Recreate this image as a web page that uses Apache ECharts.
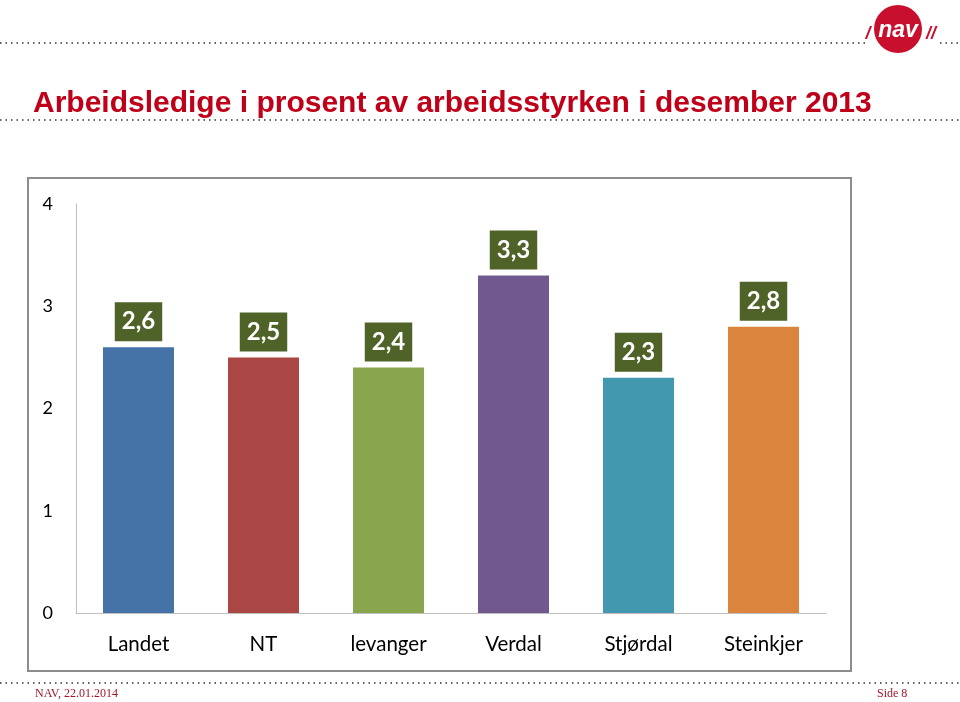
<!DOCTYPE html>
<html>
<head>
<meta charset="utf-8">
<script src="https://cdn.jsdelivr.net/npm/echarts@6/dist/echarts.min.js"></script>
<style>
html,body{margin:0;padding:0;background:#fff;}
#c{width:960px;height:702px;}
</style>
</head>
<body>
<div id="c"></div>
<script>
const categories = ['Landet', 'NT', 'levanger', 'Verdal', 'Stjørdal', 'Steinkjer'];
const values = [2.6, 2.5, 2.4, 3.3, 2.3, 2.8];
const barColors = ['#4572A7', '#AA4643', '#89A54E', '#71588F', '#4198AF', '#DB843D'];
const yTicks = [0, 1, 2, 3, 4];

const chart = echarts.init(document.getElementById('c'));
const dotted = {stroke: '#666', lineWidth: 2, lineDash: [1.5, 4]};
chart.setOption({
  animation: false,
  backgroundColor: '#fff',
  grid: {left: 76, right: 134, top: 204, bottom: 89},
  xAxis: {
    type: 'category',
    data: categories,
    axisLine: {lineStyle: {color: '#bfbfbf', width: 1}},
    axisTick: {show: false},
    axisLabel: {color: '#000', fontFamily: 'Lato', fontSize: 20.5, margin: 21}
  },
  yAxis: {
    type: 'value',
    min: yTicks[0],
    max: yTicks[yTicks.length - 1],
    interval: 1,
    axisLine: {show: true, lineStyle: {color: '#bfbfbf', width: 1}},
    axisTick: {show: false},
    splitLine: {show: false},
    axisLabel: {color: '#000', fontFamily: 'Lato', fontSize: 18, margin: 23}
  },
  series: [{
    type: 'bar',
    barWidth: 71,
    data: values.map((v, i) => ({value: v, itemStyle: {color: barColors[i]}})),
    label: {
      show: true,
      position: 'top',
      distance: 6,
      formatter: p => String(p.value).replace('.', ','),
      backgroundColor: '#4F6228',
      color: '#fff',
      fontFamily: 'Lato',
      fontWeight: 'bold',
      fontSize: 24,
      lineHeight: 25,
      padding: [7, 7, 7, 7]
    }
  }],
  graphic: [
    {type: 'rect', shape: {x: 28, y: 178, width: 823, height: 493}, style: {fill: 'none', stroke: '#8c8c8c', lineWidth: 2}, z: -1},
    {type: 'line', shape: {x1: 0, y1: 43, x2: 866, y2: 43}, style: dotted},
    {type: 'line', shape: {x1: 940, y1: 43, x2: 960, y2: 43}, style: dotted},
    {type: 'line', shape: {x1: 0, y1: 120, x2: 960, y2: 120}, style: dotted},
    {type: 'line', shape: {x1: 0, y1: 683, x2: 960, y2: 683}, style: dotted},
    {type: 'circle', shape: {cx: 898, cy: 29, r: 24}, style: {fill: '#C8102E'}},
    {type: 'text', style: {x: 898, y: 31, text: 'nav', fill: '#fff', font: 'italic bold 23px "Liberation Sans"', textAlign: 'center', textVerticalAlign: 'middle'}},
    {type: 'text', style: {x: 868, y: 34, text: '/', fill: '#C8102E', font: 'italic bold 18px "Liberation Sans"', textAlign: 'center', textVerticalAlign: 'middle'}},
    {type: 'text', style: {x: 931, y: 34, text: '//', fill: '#C8102E', font: 'italic bold 18px "Liberation Sans"', textAlign: 'center', textVerticalAlign: 'middle'}},
    {type: 'text', style: {x: 33, y: 119, text: 'Arbeidsledige i prosent av arbeidsstyrken i desember 2013', fill: '#C00018', font: 'bold 30px "Liberation Sans"', textVerticalAlign: 'bottom'}},
    {type: 'text', style: {x: 35, y: 694, text: 'NAV, 22.01.2014', fill: '#A0182A', font: '12px "Liberation Serif"', textVerticalAlign: 'middle'}},
    {type: 'text', style: {x: 877, y: 694, text: 'Side 8', fill: '#A0182A', font: '12px "Liberation Serif"', textVerticalAlign: 'middle'}}
  ]
});
</script>
</body>
</html>
